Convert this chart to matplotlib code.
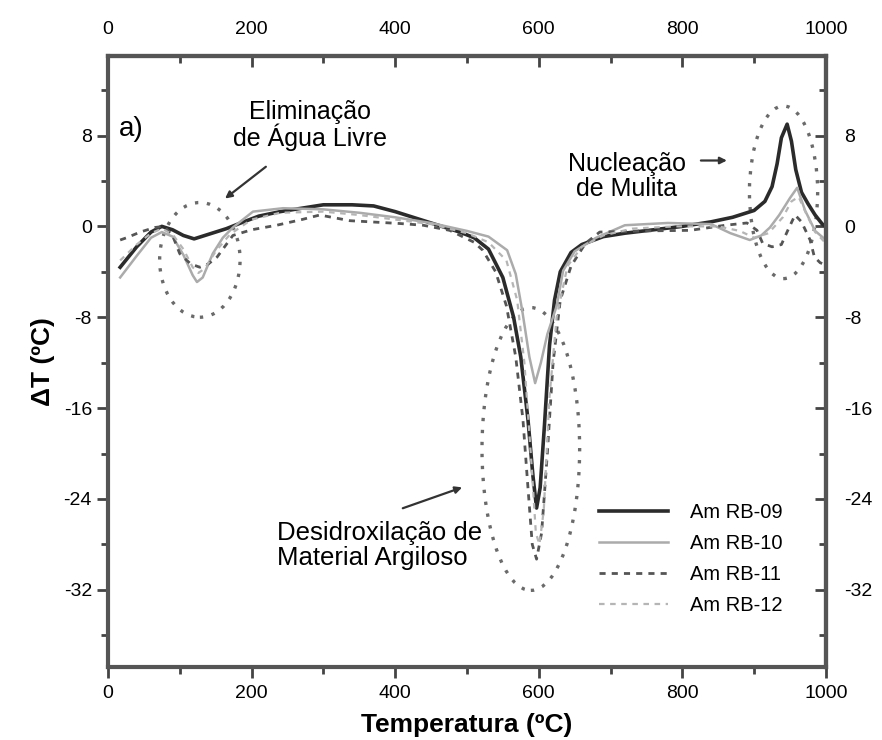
import numpy as np
import matplotlib
matplotlib.use("Agg")
import matplotlib.pyplot as plt
from matplotlib.patches import Ellipse

plt.rcParams['font.family'] = ['Liberation Sans', 'DejaVu Sans']
plt.rcParams['axes.unicode_minus'] = False

# curvas DTA
x09 = [17, 40, 60, 75, 90, 105, 120, 140, 165, 185, 210, 240, 270, 300, 340, 370, 400, 430,
       460, 490, 510, 530, 550, 565, 575, 585, 592, 597, 602, 608, 615, 622, 630, 645, 660,
       690, 720, 760, 800, 840, 870, 900, 915, 925, 932, 938, 946, 952, 958, 966, 975, 985,
       995, 1000]
y09 = [-3.6, -1.8, -0.5, 0.0, -0.3, -0.8, -1.1, -0.7, -0.2, 0.3, 0.9, 1.3, 1.6, 1.9, 1.9,
       1.8, 1.3, 0.7, 0.1, -0.5, -1.0, -2.0, -4.5, -8.0, -11.5, -17.0, -22.0, -24.8, -23.0,
       -17.5, -10.5, -6.5, -4.0, -2.3, -1.6, -0.9, -0.6, -0.3, 0.0, 0.4, 0.8, 1.4, 2.2, 3.5,
       5.5, 7.8, 9.0, 7.5, 5.0, 3.0, 2.0, 1.0, 0.2, 0.0]

x10 = [17, 40, 60, 75, 90, 105, 118, 124, 132, 146, 160, 174, 202, 244, 300, 350, 400, 450,
       500, 530, 556, 568, 577, 587, 595, 603, 612, 625, 634, 650, 680, 720, 780, 840, 867,
       894, 910, 922, 935, 950, 960, 971, 985, 1000]
y10 = [-4.5, -2.6, -1.0, -0.5, -0.9, -2.5, -4.3, -4.9, -4.5, -2.4, -1.0, -0.1, 1.3, 1.6,
       1.5, 1.2, 0.8, 0.3, -0.4, -0.9, -2.1, -4.2, -7.4, -11.5, -13.8, -12.0, -9.5, -7.0,
       -3.9, -2.2, -1.0, 0.1, 0.3, 0.2, -0.6, -1.2, -0.8, -0.1, 1.0, 2.5, 3.4, 1.4, -0.4,
       -1.2]

x11 = [17, 26, 45, 65, 78, 90, 100, 115, 128, 140, 152, 174, 200, 235, 270, 295, 337, 407,
       439, 476, 510, 522, 540, 555, 568, 578, 585, 591, 597, 604, 612, 620, 630, 645, 665,
       685, 745, 811, 860, 890, 904, 912, 925, 938, 948, 957, 966, 978, 984, 992, 1000]
y11 = [-1.2, -1.0, -0.5, -0.1, 0.0, -0.8, -2.4, -3.3, -3.6, -3.3, -2.7, -0.8, -0.3, 0.1,
       0.6, 1.0, 0.5, 0.25, 0.1, -0.35, -1.4, -2.1, -4.0, -7.0, -11.5, -17.0, -23.0, -28.0,
       -29.3, -27.0, -20.0, -12.0, -6.5, -3.5, -1.5, -0.5, -0.4, -0.35, 0.1, 0.3, -0.35,
       -1.5, -1.8, -1.6, -0.2, 1.0, 0.4, -1.2, -2.7, -3.2, -3.4]

x12 = [17, 40, 60, 75, 90, 105, 118, 126, 135, 150, 170, 200, 240, 300, 350, 400, 450, 500,
       530, 555, 570, 580, 590, 596, 601, 607, 615, 625, 640, 660, 690, 730, 790, 850, 880,
       900, 920, 940, 952, 962, 972, 985, 1000]
y12 = [-3.0, -1.6, -0.6, -0.2, -0.7, -2.0, -3.6, -4.1, -3.7, -2.2, -0.7, 0.6, 1.2, 1.3, 1.0,
       0.6, 0.2, -0.6, -1.4, -3.0, -6.5, -12.0, -21.0, -27.0, -28.0, -25.0, -15.0, -8.0,
       -3.5, -1.8, -0.8, -0.2, 0.0, 0.0, -0.4, -1.0, -0.6, 0.8, 2.2, 2.6, 1.2, -0.5, -1.5]

labels = ['Am RB-09', 'Am RB-10', 'Am RB-11', 'Am RB-12']
xticks = [0, 200, 400, 600, 800, 1000]
yticks = [8, 0, -8, -16, -24, -32]

fig = plt.figure(figsize=(8.82, 7.40), dpi=100)
ax = fig.add_axes([0.1224, 0.0986, 0.814, 0.8257])

ax.plot(x09, y09, color='#2b2b2b', lw=2.6, label=labels[0])
ax.plot(x10, y10, color='#ababab', lw=1.8, label=labels[1])
ax.plot(x11, y11, color='#555555', lw=2.0, ls=(0, (2.2, 2.2)), label=labels[2])
ax.plot(x12, y12, color='#b5b5b5', lw=1.6, ls=(0, (2.5, 2.5)), label=labels[3])

# elipses de destaque
for cx, cy, w, h in [(128, -2.95, 112, 10.1), (589, -19.6, 136, 24.9), (941, 3.0, 95, 15.2)]:
    ax.add_patch(Ellipse((cx, cy), w, h, fill=False, ec='#6a6a6a', lw=2.4, ls=(0, (1, 2.6))))

ax.set_xlim(0, 1000)
ax.set_ylim(-38.8, 15)
ax.set_xticks(xticks)
ax.set_yticks(yticks)
ax.set_xticks(np.arange(100, 1000, 200), minor=True)
ax.set_yticks(np.arange(-36, 15, 8), minor=True)
ax.tick_params(which='major', direction='out', length=8, width=2, color='#444444',
               labelsize=14, top=False, right=False)
ax.tick_params(which='minor', direction='out', length=5, width=2, color='#444444',
               top=False, right=False)
ax.tick_params(axis='x', pad=5)
for s in ax.spines.values():
    s.set_linewidth(3)
    s.set_color('#555555')

secx = ax.secondary_xaxis('top')
secx.set_xticks(xticks)
secx.set_xticks(np.arange(100, 1000, 200), minor=True)
secx.tick_params(which='major', direction='in', length=8, width=2, color='#444444',
                 labelsize=14, pad=13)
secx.tick_params(which='minor', direction='in', length=5, width=2, color='#444444')
secx.spines['top'].set_linewidth(3)
secx.spines['top'].set_color('#555555')

secy = ax.secondary_yaxis('right')
secy.set_yticks(yticks)
secy.set_yticks(np.arange(-36, 15, 8), minor=True)
secy.tick_params(which='major', direction='in', length=8, width=2, color='#444444',
                 labelsize=14, pad=13)
secy.tick_params(which='minor', direction='in', length=5, width=2, color='#444444')
secy.spines['right'].set_linewidth(3)
secy.spines['right'].set_color('#555555')

ax.set_xlabel('Temperatura (ºC)', fontsize=19, fontweight='bold', labelpad=8)
ax.set_ylabel('ΔT (ºC)', fontsize=19, fontweight='bold', labelpad=6)

ax.text(15, 8.6, 'a)', fontsize=20, va='center', ha='left')
ax.text(281, 8.9, 'Eliminação\nde Água Livre', fontsize=18, ha='center', va='center',
        linespacing=1.0)
ax.text(723, 4.4, 'Nucleação\nde Mulita', fontsize=18, ha='center', va='center',
        linespacing=1.05)
ax.text(235, -28.1, 'Desidroxilação de\nMaterial Argiloso', fontsize=18.5, ha='left',
        va='center', linespacing=1.05)

arrow = dict(arrowstyle='-|>', color='#333333', lw=1.6, mutation_scale=10)
ax.annotate('', xy=(160, 2.3), xytext=(223, 5.4), arrowprops=arrow)
ax.annotate('', xy=(866, 5.8), xytext=(822, 5.8), arrowprops=arrow)
ax.annotate('', xy=(497, -22.9), xytext=(407, -24.9), arrowprops=arrow)

ax.legend(loc='lower right', bbox_to_anchor=(0.965, 0.055), frameon=False,
          handlelength=3.4, handletextpad=1.1, labelspacing=0.6,
          prop={'size': 14.5})

fig.savefig('out.png', dpi=100)
